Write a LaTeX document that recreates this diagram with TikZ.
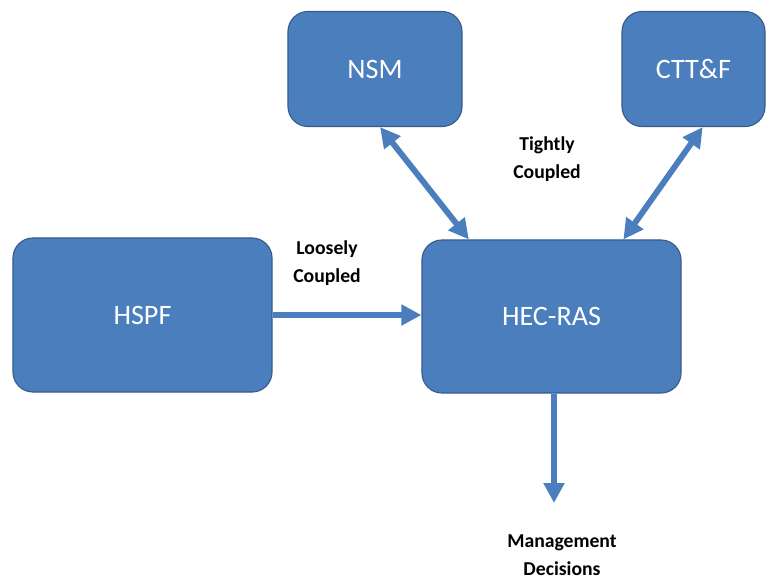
\documentclass[tikz,border=0pt]{standalone}
\usepackage{fontspec}
\setmainfont{Carlito}
\usetikzlibrary{arrows.meta}
\definecolor{boxblue}{RGB}{74,126,189}
\definecolor{boxline}{RGB}{56,93,138}

\begin{document}
\begin{tikzpicture}[x=0.025cm,y=-0.025cm]
			\useasboundingbox (0,0) rectangle (780,580);
			\begin{scope}[every node/.style={rectangle,rounded corners=0.5cm,draw=boxline,thick,fill=boxblue,text=white,font=\fontsize{20}{24}\selectfont}]
				\node [minimum width=4.35cm,minimum height=2.875cm] (N) at (375,69) {NSM};
				\node [minimum width=3.575cm,minimum height=2.875cm] (C) at (693.5,69) {CTT\&F};
				\node [minimum width=6.475cm,minimum height=3.85cm] (H) at (142.5,315) {HSPF};
				\node [minimum width=6.475cm,minimum height=3.825cm] (R) at (551.5,316.5) {HEC-RAS};
			\end{scope}
		
			\begin{scope}[every node/.style={align=center,font=\bfseries\fontsize{14}{20}\selectfont}]
				\node (T) at (547,159) {Tightly\\Coupled};
				\node (L) at (327,263) {Loosely\\Coupled};
				\node (D) at (562,555) {Management\\Decisions};
			\end{scope}
			\coordinate (M) at (554,503);
			
			\begin{scope}[>={Triangle[length=0.5cm,width=0.5cm]},every edge/.style={draw=boxblue,line width=4.2pt}]
				\path [<->] (N.275) edge (R.137);
				\path [<->] (C.279) edge (R.47);
				\path [->] (H.east) edge (H.east -| R.west);
				\path [->] (R.south -| M) edge (M);
			\end{scope}
		\end{tikzpicture}
\end{document}
